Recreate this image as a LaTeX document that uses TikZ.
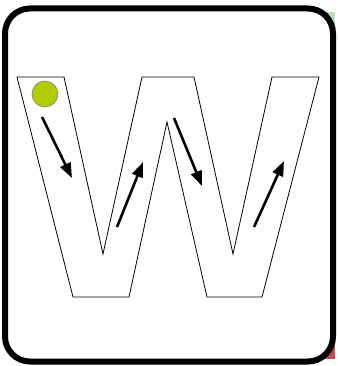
\documentclass[tikz,border=0pt]{standalone}
\usepackage{tikz}
\usepackage{xcolor}
\usetikzlibrary{positioning, arrows.meta, calc}
\definecolor{ballgreen}{RGB}{178,204,0}
\definecolor{ballborder}{RGB}{128,128,128}
\definecolor{edgegreen}{RGB}{190,222,190}
\definecolor{edgered}{RGB}{192,80,77}

\begin{document}
\begin{tikzpicture}[
  % pixel-like units, y pointing down
  x=1pt, y=-1pt,
  % card frame style
  cardframe/.style={
    draw=black, fill=white, line width=6pt, rounded corners=25pt
  },
  % letter outline style
  letterline/.style={draw=black, line width=0.8pt, line join=miter},
  % start ball style
  startball/.style={
    draw=ballborder, fill=ballgreen, circle, minimum size=26pt,
    inner sep=0pt, line width=0.6pt
  },
  % stroke direction arrow
  strokearrow/.style={
    line width=2.6pt, -{Triangle[length=15pt, width=11pt]}
  }
]

% ── Bounding box ────────────────────────────────────────────────
\useasboundingbox (0,0) rectangle (337,366);

% ── Coloured edges peeking out behind the card ──────────────────
\fill[edgegreen] (318,12) rectangle (335,28);
\fill[edgered] (318,342) rectangle (335,359);

% ── Card ────────────────────────────────────────────────────────
\draw[cardframe] (5,8.5) rectangle (333,361.5);

% ── Letter W outline ────────────────────────────────────────────
\draw[letterline]
  (17,77) -- (64,77) -- (103,254) -- (142,77) -- (194,77)
  -- (233,254) -- (272,77) -- (319,77) -- (262,297) -- (207,297)
  -- (167,122) -- (129,297) -- (73,297) -- cycle;

% ── Start ball ──────────────────────────────────────────────────
\node[startball] (ball) at (45,94) {};

% ── Stroke arrows ───────────────────────────────────────────────
\coordinate (s1_from) at (42,117);
\coordinate (s1_to)   at (72,178);
\coordinate (s2_from) at (117,227);
\coordinate (s2_to)   at (143,162);
\coordinate (s3_from) at (174,118);
\coordinate (s3_to)   at (202,186);
\coordinate (s4_from) at (254,227);
\coordinate (s4_to)   at (284,161);

\draw[strokearrow] (s1_from) -- (s1_to);
\draw[strokearrow] (s2_from) -- (s2_to);
\draw[strokearrow] (s3_from) -- (s3_to);
\draw[strokearrow] (s4_from) -- (s4_to);

\end{tikzpicture}
\end{document}
